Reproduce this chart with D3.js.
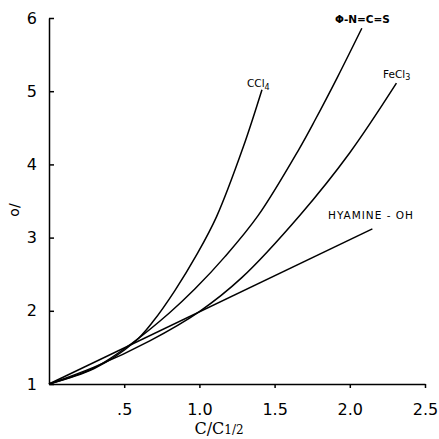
<!DOCTYPE html>
<html>
<head>
<meta charset="utf-8">
<script src="https://cdn.jsdelivr.net/npm/d3@7"></script>
<style>
  body { margin: 0; background: #fff; }
  svg { display: block; }
  .axis path, .axis line { stroke: #000; stroke-width: 1.5; }
  .axis text { font-family: "DejaVu Sans", sans-serif; font-size: 16px; fill: #000; }
  .curve { fill: none; stroke: #000; stroke-width: 1.5; }
  .lbl { font-family: "DejaVu Sans", sans-serif; font-size: 10.5px; fill: #000; }
</style>
</head>
<body>
<div id="chart"></div>
<script>
// values
const xTicks = [0.5, 1.0, 1.5, 2.0, 2.5];
const xTickLabels = ['.5', '1.0', '1.5', '2.0', '2.5'];
const yTicks = [1, 2, 3, 4, 5, 6];

const cclX = [0, 0.3, 0.572, 0.694, 0.838, 0.986, 1.115, 1.292, 1.416];
const cclY = [1, 1.21, 1.58, 1.86, 2.28, 2.78, 3.29, 4.24, 5.02];

const ncsX = [0, 0.3, 0.56, 0.8, 0.971, 1.17, 1.39, 1.66, 1.77, 1.92, 2.08];
const ncsY = [1, 1.22, 1.57, 1.97, 2.3, 2.74, 3.3, 4.2, 4.61, 5.2, 5.86];

const feX = [0, 0.3, 0.67, 1.0, 1.28, 1.67, 2.0, 2.31];
const feY = [1, 1.23, 1.59, 1.99, 2.45, 3.31, 4.16, 5.11];

const hyaX = [0, 2.15];
const hyaY = [1, 3.12];

const width = 439, height = 439;

const svg = d3.select('#chart').append('svg')
  .attr('width', width)
  .attr('height', height);

const x = d3.scaleLinear().domain([0, 2.5]).range([49, 425]);
const y = d3.scaleLinear().domain([1, 6]).range([384, 18]);

//--- x axis, ticks down
svg.append('g')
  .attr('class', 'axis')
  .attr('transform', `translate(0, ${y(1)})`)
  .call(d3.axisBottom(x)
    .tickValues(xTicks)
    .tickFormat((d, i) => xTickLabels[i])
    .tickSizeInner(4)
    .tickSizeOuter(0)
    .tickPadding(16));

//--- y axis, ticks point inward
svg.append('g')
  .attr('class', 'axis')
  .attr('transform', `translate(${x(0)}, 0)`)
  .call(d3.axisLeft(y)
    .tickValues(yTicks)
    .tickFormat(d3.format('d'))
    .tickSizeInner(-5)
    .tickSizeOuter(0)
    .tickPadding(12));

//--- curves
const line = d3.line()
  .x(d => x(d[0]))
  .y(d => y(d[1]))
  .curve(d3.curveCatmullRom.alpha(0.5));

const series = [
  [cclX, cclY],
  [ncsX, ncsY],
  [feX, feY],
  [hyaX, hyaY]
];

svg.selectAll('.curve')
  .data(series)
  .enter()
  .append('path')
  .attr('class', 'curve')
  .attr('d', s => line(s[0].map((v, i) => [v, s[1][i]])));

//--- curve labels
const ccl = svg.append('text').attr('class', 'lbl').attr('x', 247).attr('y', 87);
ccl.append('tspan').text('CCl');
ccl.append('tspan').attr('dy', 3).style('font-size', '8px').text('4');

svg.append('text').attr('class', 'lbl').attr('x', 335).attr('y', 23)
  .style('font-weight', 'bold').text('\u03A6-N=C=S');

const fe = svg.append('text').attr('class', 'lbl').attr('x', 383).attr('y', 78);
fe.append('tspan').text('FeCl');
fe.append('tspan').attr('dy', 2).style('font-size', '8px').text('3');

svg.append('text').attr('class', 'lbl').attr('x', 328).attr('y', 219)
  .style('letter-spacing', '1px').text('HYAMINE - OH');

//--- axis titles
const xt = svg.append('text')
  .attr('x', 219).attr('y', 434)
  .attr('text-anchor', 'middle')
  .style('font-family', '"DejaVu Serif", serif')
  .style('font-size', '16px');
xt.append('tspan').text('C/C');
xt.append('tspan').style('font-size', '12px').text('1/2');

svg.append('text')
  .attr('transform', 'translate(19, 210) rotate(-90)')
  .attr('text-anchor', 'middle')
  .style('font-family', '"DejaVu Sans", sans-serif')
  .style('font-size', '14px')
  .text('o/');
</script>
</body>
</html>
